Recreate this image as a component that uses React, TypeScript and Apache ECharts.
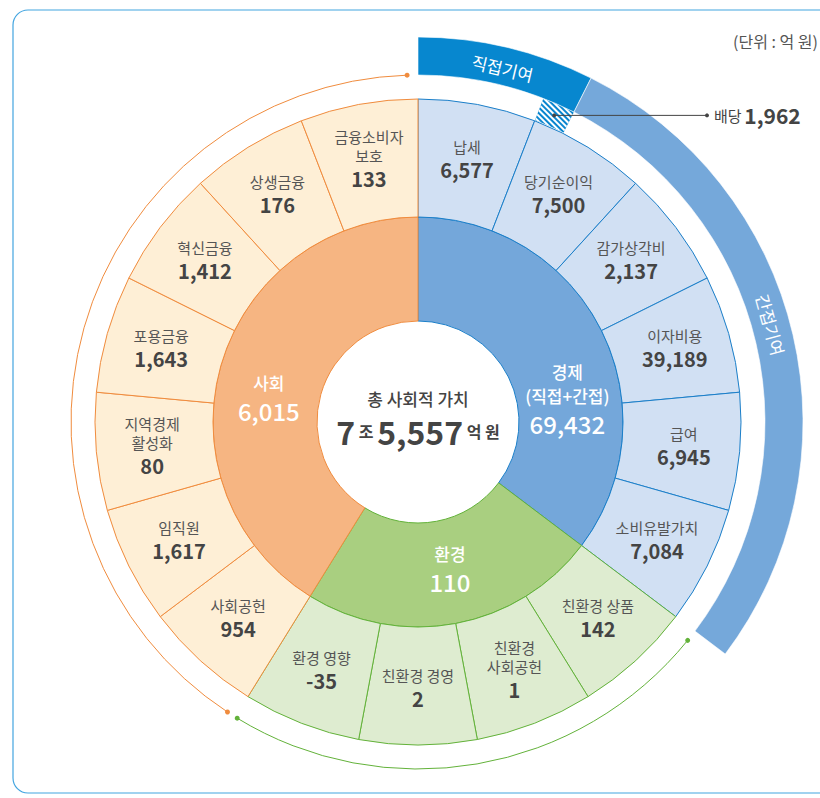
import React, { useEffect, useRef } from "react";
import * as echarts from "echarts";

// ---------- data ----------
const groupNames = ["경제", "환경", "사회"];
const groupSubtitles = ["(직접+간접)", "", ""];
const groupValues = [69432, 110, 6015];

const econNames = ["납세", "당기순이익", "감가상각비", "이자비용", "급여", "소비유발가치"];
const econValues = [6577, 7500, 2137, 39189, 6945, 7084];
const envNames = ["친환경 상품", "친환경\n사회공헌", "친환경 경영", "환경 영향"];
const envValues = [142, 1, 2, -35];
const socNames = ["사회공헌", "임직원", "지역경제\n활성화", "포용금융", "혁신금융", "상생금융", "금융소비자\n보호"];
const socValues = [954, 1617, 80, 1643, 1412, 176, 133];

const dividendName = "배당";
const dividendValue = 1962;
const bandNames = ["직접기여", "간접기여"];
const centerTitle = "총 사회적 가치";
const totalJo = 7;
const totalEok = 5557;
const unitText = "(단위 : 억 원)";

// ---------- layout / style ----------
const FONT = "'Noto Sans CJK KR', 'Noto Sans', sans-serif";
const CX = 418;
const CY = 422;
const R_HOLE = 101;
const R_MID = 205;
const R_OUT = 323;
const R_HATCH_IN = 324;
const R_BAND_IN = 347;
const R_BAND_OUT = 385;
const R_THIN = 347;

const innerFill = ["#74a7da", "#a9cf80", "#f6b582"];
const outerFill = ["#d1e0f3", "#deecd0", "#feefd6"];
const borderCol = ["#1b7fc9", "#63b23a", "#f08c3e"];
const bandCol = ["#0787cf", "#75a8da"];
const innerLabelAngles = [81.4, 167.8, 279];
const innerLabelR = 151;
const orangeArc = [213.3, 358.2];
const greenArc = [129, 211.4];

const fmt = (v: number) => v.toLocaleString("en-US");
const deg = Math.PI / 180;
const polar = (a: number, r: number) => [CX + r * Math.sin(a * deg), CY - r * Math.cos(a * deg)];

export default function App() {
  const ref = useRef<HTMLDivElement>(null);
  useEffect(() => {
    if (!ref.current) return;
    const chart = echarts.init(ref.current, null, { renderer: "svg" });

    const groupsChildren = [econNames, envNames, socNames];
    const groupsValues = [econValues, envValues, socValues];
    const leafNames: string[] = [];
    const leafValues: number[] = [];
    const leafGroup: number[] = [];
    groupsChildren.forEach((names, g) => {
      names.forEach((n, i) => {
        leafNames.push(n);
        leafValues.push(groupsValues[g][i]);
        leafGroup.push(g);
      });
    });
    const nLeaves = leafNames.length;
    const unitAngle = 360 / nLeaves;

    const outerData = leafNames.map((n, i) => ({
      name: n,
      value: 1,
      itemStyle: { color: outerFill[leafGroup[i]], borderColor: borderCol[leafGroup[i]], borderWidth: 1 },
    }));

    const innerData = groupNames.map((n, g) => ({
      name: n,
      value: groupsChildren[g].length,
      itemStyle: { color: innerFill[g], borderColor: borderCol[g], borderWidth: 1 },
    }));

    const divFrac = dividendValue / econValues[1];
    const transparent = { color: "rgba(0,0,0,0)", borderWidth: 0 };

    const hatchData = [
      { name: "gap0", value: 1, itemStyle: transparent },
      {
        name: dividendName,
        value: divFrac,
        itemStyle: {
          color: "#0a86cf",
          borderWidth: 0,
          decal: {
            symbol: "rect",
            symbolSize: 1,
            color: "#ffffff",
            dashArrayX: [1, 0],
            dashArrayY: [2, 2],
            rotation: Math.PI / 4,
          },
        },
      },
      { name: "gap1", value: nLeaves - 1 - divFrac, itemStyle: transparent },
    ];

    const directUnits = 1 + divFrac;
    const indirectUnits = econNames.length - directUnits;
    const bandData = [
      { name: bandNames[0], value: directUnits, itemStyle: { color: bandCol[0], borderColor: "#ffffff", borderWidth: 0.6 } },
      { name: bandNames[1], value: indirectUnits, itemStyle: { color: bandCol[1], borderColor: "#ffffff", borderWidth: 0.6 } },
      { name: "rest", value: nLeaves - econNames.length, itemStyle: transparent },
    ];

    const directMid = (directUnits / 2) * unitAngle;
    const indirectMid = (directUnits + indirectUnits / 2) * unitAngle;
    const [dx, dy] = polar(directMid, (R_BAND_IN + R_BAND_OUT) / 2);
    const [ix, iy] = polar(indirectMid - 2.3, (R_BAND_IN + R_BAND_OUT) / 2);
    const hatchMid = (1 + divFrac / 2) * unitAngle;
    const [hx, hy] = polar(hatchMid, (R_HATCH_IN + R_BAND_IN) / 2);

    const arcEl = (range: number[], color: string) => {
      const [a0, a1] = range;
      const p0 = polar(a0, R_THIN);
      const p1 = polar(a1, R_THIN);
      return [
        {
          type: "arc",
          shape: { cx: CX, cy: CY, r: R_THIN, startAngle: (a0 - 90) * deg, endAngle: (a1 - 90) * deg, clockwise: true },
          style: { stroke: color, lineWidth: 1, fill: "none" },
          silent: true,
        },
        { type: "circle", shape: { cx: p0[0], cy: p0[1], r: 2.5 }, style: { fill: color }, silent: true },
        { type: "circle", shape: { cx: p1[0], cy: p1[1], r: 2.5 }, style: { fill: color }, silent: true },
      ];
    };

    const option: any = {
      animation: false,
      backgroundColor: "#ffffff",
      textStyle: { fontFamily: FONT },
      series: [
        {
          type: "pie",
          name: "inner",
          center: [CX, CY],
          radius: [R_HOLE, R_MID],
          startAngle: 90,
          clockwise: true,
          data: innerData,
          emphasis: { disabled: true },
          labelLine: { show: false },
          label: {
            show: true,
            position: "inside",
            fontFamily: FONT,
            formatter: (p: any) => {
              const g = p.dataIndex;
              const lines = [`{t|${groupNames[g]}}`];
              if (groupSubtitles[g]) lines.push(`{t|${groupSubtitles[g]}}`);
              lines.push(`{v|${fmt(groupValues[g])}}`);
              return lines.join("\n");
            },
            rich: {
              t: { fontSize: 17, color: "#ffffff", lineHeight: 24, fontFamily: FONT, fontWeight: 500 },
              v: { fontSize: 24, color: "#ffffff", lineHeight: 32, fontFamily: FONT, fontWeight: 500 },
            },
          },
          labelLayout: (p: any) => {
            const [x, y] = polar(innerLabelAngles[p.dataIndex], innerLabelR);
            return { x, y, align: "center", verticalAlign: "middle" };
          },
        },
        {
          type: "pie",
          name: "outer",
          center: [CX, CY],
          radius: [R_MID, R_OUT],
          startAngle: 90,
          clockwise: true,
          data: outerData,
          emphasis: { disabled: true },
          labelLine: { show: false },
          label: {
            show: true,
            position: "inside",
            fontFamily: FONT,
            formatter: (p: any) => {
              const lines = (p.name as string).split("\n").map((s) => `{n|${s}}`);
              lines.push(`{v|${fmt(leafValues[p.dataIndex])}}`);
              return lines.join("\n");
            },
            rich: {
              n: { fontSize: 15, color: "#555555", lineHeight: 19, fontFamily: FONT },
              v: { fontSize: 20, color: "#444444", lineHeight: 27, fontWeight: "bold", fontFamily: FONT },
            },
          },
        },
        {
          type: "pie",
          name: "hatch",
          center: [CX, CY],
          radius: [R_HATCH_IN, R_BAND_IN],
          startAngle: 90,
          clockwise: true,
          silent: true,
          data: hatchData,
          emphasis: { disabled: true },
          label: { show: false },
          labelLine: { show: false },
          minAngle: 0,
        },
        {
          type: "pie",
          name: "bands",
          center: [CX, CY],
          radius: [R_BAND_IN, R_BAND_OUT],
          startAngle: 90,
          clockwise: true,
          silent: true,
          data: bandData,
          emphasis: { disabled: true },
          label: { show: false },
          labelLine: { show: false },
        },
      ],
      graphic: [
        {
          type: "rect",
          z: -10,
          shape: { x: 13, y: 10, width: 900, height: 783, r: 15 },
          style: { fill: "none", stroke: "#43a5e0", lineWidth: 1.2 },
          silent: true,
        },
        {
          type: "text",
          x: 733,
          y: 41,
          style: { text: unitText, fill: "#555555", fontSize: 16, fontFamily: FONT, verticalAlign: "middle", textVerticalAlign: "middle" },
        },
        ...arcEl(orangeArc, borderCol[2]),
        ...arcEl(greenArc, borderCol[1]),
        {
          type: "text",
          x: dx,
          y: dy + 2,
          rotation: -directMid * deg,
          style: {
            text: bandNames[0], fill: "#ffffff", fontSize: 17, fontFamily: FONT,
            align: "center", verticalAlign: "middle", textAlign: "center", textVerticalAlign: "middle",
          },
          z: 100,
        },
        {
          type: "text",
          x: ix,
          y: iy,
          rotation: -(indirectMid - 2.3) * deg,
          style: {
            text: bandNames[1], fill: "#ffffff", fontSize: 17, fontFamily: FONT,
            align: "center", verticalAlign: "middle", textAlign: "center", textVerticalAlign: "middle",
          },
          z: 100,
        },
        {
          type: "line",
          shape: { x1: hx, y1: hy, x2: 707, y2: hy },
          style: { stroke: "#444444", lineWidth: 1 },
          z: 100,
        },
        { type: "circle", shape: { cx: hx, cy: hy, r: 2 }, style: { fill: "#444444" }, z: 100 },
        { type: "circle", shape: { cx: 707, cy: hy, r: 2 }, style: { fill: "#444444" }, z: 100 },
        {
          type: "text",
          x: 714,
          y: hy,
          style: {
            text: `{a|${dividendName}} {b|${fmt(dividendValue)}}`,
            fontFamily: FONT,
            verticalAlign: "middle",
            textVerticalAlign: "middle",
            rich: {
              a: { fontSize: 15, fill: "#444444", color: "#444444", fontFamily: FONT },
              b: { fontSize: 21, fill: "#444444", color: "#444444", fontWeight: "bold", fontFamily: FONT },
            },
          },
          z: 100,
        },
        {
          type: "text",
          x: CX,
          y: 398,
          style: {
            text: centerTitle, fill: "#444444", fontSize: 17, fontWeight: 500, fontFamily: FONT,
            align: "center", verticalAlign: "middle", textAlign: "center", textVerticalAlign: "middle",
          },
          z: 100,
        },
        {
          type: "text",
          x: CX,
          y: 431,
          style: {
            text: `{b|${totalJo}}{s| 조 }{b|${fmt(totalEok)}}{s| 억 원}`,
            fontFamily: FONT,
            align: "center", verticalAlign: "middle", textAlign: "center", textVerticalAlign: "middle",
            rich: {
              b: { fontSize: 32, fontWeight: "bold", fill: "#444444", color: "#444444", fontFamily: FONT },
              s: { fontSize: 16, fontWeight: "bold", fill: "#444444", color: "#444444", fontFamily: FONT },
            },
          },
          z: 100,
        },
      ],
    };

    chart.setOption(option);
    return () => chart.dispose();
  }, []);

  return <div ref={ref} style={{ position: "absolute", left: 0, top: 0, width: 820, height: 798 }} />;
}
